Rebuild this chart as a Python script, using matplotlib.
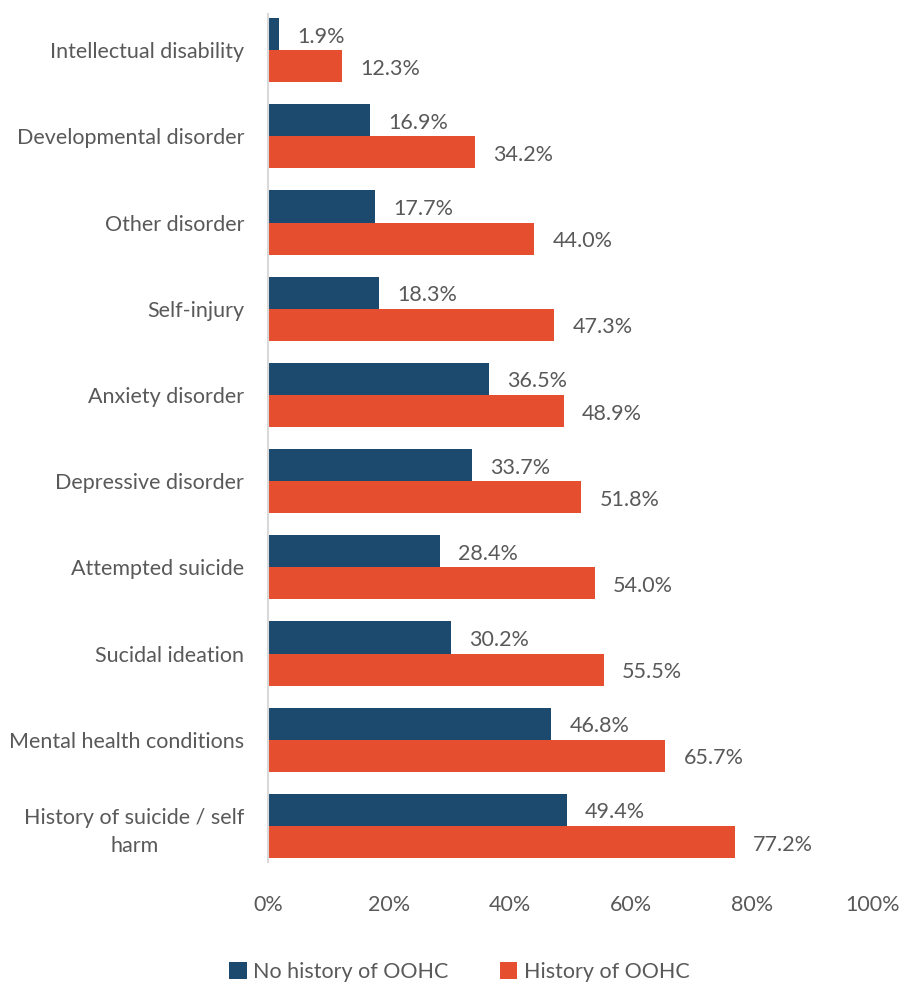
import matplotlib.pyplot as plt
import numpy as np

plt.rcParams['font.family'] = ['Lato', 'DejaVu Sans']

categories = ['Intellectual disability', 'Developmental disorder', 'Other disorder',
              'Self-injury', 'Anxiety disorder', 'Depressive disorder',
              'Attempted suicide', 'Sucidal ideation', 'Mental health conditions',
              'History of suicide / self\nharm']
no_oohc = [1.9, 16.9, 17.7, 18.3, 36.5, 33.7, 28.4, 30.2, 46.8, 49.4]
oohc = [12.3, 34.2, 44.0, 47.3, 48.9, 51.8, 54.0, 55.5, 65.7, 77.2]
xticks = [0, 20, 40, 60, 80, 100]

blue = '#1B4A6E'
orange = '#E54E2E'
grey = '#595959'
fs = 15.5

fig = plt.figure(figsize=(9.19, 9.88), dpi=100)
ax = fig.add_axes([0.2916, 0.1204, 0.6583, 0.8725])

y = np.arange(len(categories))
h = 0.372
b1 = ax.barh(y - h / 2, no_oohc, height=h, color=blue, label='No history of OOHC')
b2 = ax.barh(y + h / 2, oohc, height=h, color=orange, label='History of OOHC')

for bars, vals in [(b1, no_oohc), (b2, oohc)]:
    for bar, v in zip(bars, vals):
        ax.text(v + 3.0, bar.get_y() + bar.get_height() / 2 + 0.03, f'{v:.1f}%',
                va='center', ha='left', fontsize=fs, color=grey)

ax.set_xlim(0, 100)
ax.set_ylim(len(categories) - 0.5, -0.5)
ax.set_yticks(y)
ax.set_yticklabels(categories, fontsize=fs, color=grey, linespacing=1.5,
                   multialignment='center')
ax.set_xticks(xticks)
ax.set_xticklabels([f'{t}%' for t in xticks], fontsize=fs, color=grey)
ax.tick_params(axis='both', length=0)
ax.tick_params(axis='y', pad=17)
ax.tick_params(axis='x', pad=19)

for s in ['top', 'right', 'bottom']:
    ax.spines[s].set_visible(False)
ax.spines['left'].set_color('#D9D9D9')
ax.spines['left'].set_linewidth(1.5)
ax.spines['left'].set_bounds(len(categories) - 0.58, -0.42)

fig.legend(handles=[b1, b2], loc='center', bbox_to_anchor=(0.5, 0.016),
           ncol=2, frameon=False, fontsize=fs, labelcolor=grey,
           handlelength=0.8, handleheight=0.8, handletextpad=0.3,
           columnspacing=2.4)

fig.savefig('out.png', dpi=100)
